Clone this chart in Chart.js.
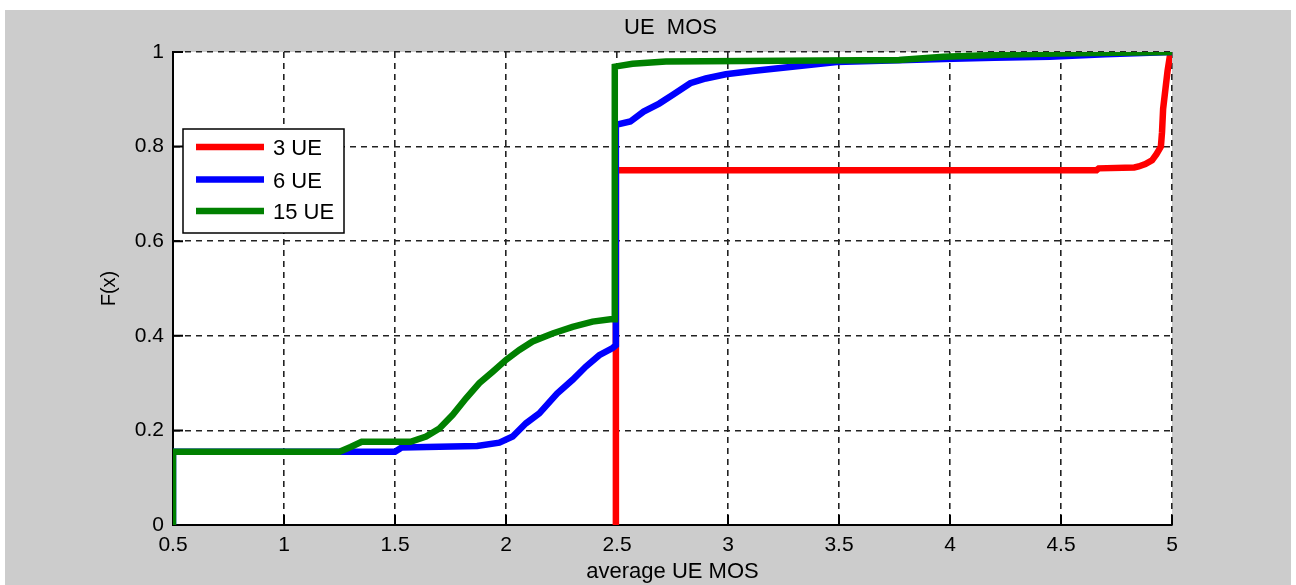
<!DOCTYPE html>
<html>
<head>
<meta charset="utf-8">
<script src="https://cdn.jsdelivr.net/npm/chart.js@4.4.1/dist/chart.umd.min.js"></script>
<style>
  html, body { margin: 0; padding: 0; background: #ffffff; }
  canvas { display: block; }
</style>
</head>
<body>
<canvas id="cdf" width="1296" height="585"></canvas>
<script>
const chartTitle = 'UE  MOS';
const xAxisTitle = 'average UE MOS';
const yAxisTitle = 'F(x)';
const seriesLabels = ['3 UE', '6 UE', '15 UE'];
const seriesColors = ['#ff0000', '#0000ff', '#008000'];
const xTickValues = [0.5, 1, 1.5, 2, 2.5, 3, 3.5, 4, 4.5, 5];
const xTickLabels = ['0.5', '1', '1.5', '2', '2.5', '3', '3.5', '4', '4.5', '5'];
const yTickValues = [0, 0.2, 0.4, 0.6, 0.8, 1];
const yTickLabels = ['0', '0.2', '0.4', '0.6', '0.8', '1'];

// Empirical CDF samples: x = average MOS, y = F(x)
const ue3X = [2.495, 2.495, 4.66, 4.67, 4.83, 4.85, 4.88, 4.91, 4.93, 4.95, 4.955, 4.96, 4.97, 4.98, 4.99, 5.0];
const ue3Y = [0, 0.75, 0.75, 0.754, 0.756, 0.758, 0.763, 0.771, 0.784, 0.80, 0.83, 0.88, 0.92, 0.96, 0.99, 1.0];

const ue6X = [0.5, 0.5, 1.25, 1.5, 1.53, 1.87, 1.97, 2.03, 2.09, 2.15, 2.23, 2.30, 2.36, 2.42, 2.48, 2.495,
              2.495, 2.56, 2.62, 2.69, 2.75, 2.83, 2.90, 2.99, 3.11, 3.29, 3.49, 3.97, 4.2, 4.45, 4.7, 5.0];
const ue6Y = [0, 0.155, 0.155, 0.155, 0.164, 0.167, 0.174, 0.187, 0.215, 0.236, 0.278, 0.307, 0.335, 0.359, 0.374, 0.38,
              0.846, 0.853, 0.874, 0.891, 0.909, 0.934, 0.944, 0.953, 0.96, 0.969, 0.979, 0.985, 0.988, 0.99, 0.995, 1.0];

const ue15X = [0.5, 0.5, 1.25, 1.3, 1.35, 1.57, 1.64, 1.70, 1.76, 1.82, 1.88, 1.94, 2.0, 2.06, 2.12, 2.21, 2.30, 2.39, 2.47, 2.49,
               2.49, 2.57, 2.72, 3.77, 3.97, 4.22, 4.48, 5.0];
const ue15Y = [0, 0.155, 0.155, 0.165, 0.176, 0.176, 0.187, 0.204, 0.233, 0.268, 0.30, 0.324, 0.349, 0.37, 0.388, 0.405, 0.419, 0.43, 0.435, 0.435,
               0.969, 0.975, 0.98, 0.983, 0.99, 0.994, 0.997, 1.0];

const FONT = '"Liberation Sans", Arial, Helvetica, sans-serif';
const TEXT_COLOR = '#000000';

function toPoints(xs, ys) {
  return xs.map((x, i) => ({ x: x, y: ys[i] }));
}

const seriesPoints = [toPoints(ue3X, ue3Y), toPoints(ue6X, ue6Y), toPoints(ue15X, ue15Y)];

// Grey figure frame with a white axes area
const framePlugin = {
  id: 'frame',
  beforeDraw(chart) {
    const { ctx, chartArea: a } = chart;
    ctx.save();
    ctx.fillStyle = '#ffffff';
    ctx.fillRect(0, 0, chart.width, chart.height);
    ctx.fillStyle = '#cccccc';
    ctx.fillRect(5, 10, 1286, chart.height - 10);
    ctx.fillStyle = '#ffffff';
    ctx.fillRect(a.left, a.top, a.right - a.left, a.bottom - a.top);
    ctx.restore();
  }
};

// Short tick marks pointing into the axes area
const innerTicksPlugin = {
  id: 'innerTicks',
  beforeDatasetsDraw(chart) {
    const { ctx, chartArea: a, scales } = chart;
    const len = 10;
    ctx.save();
    ctx.strokeStyle = '#000000';
    ctx.lineWidth = 2;
    ctx.beginPath();
    scales.x.ticks.forEach(t => {
      const px = scales.x.getPixelForValue(t.value);
      ctx.moveTo(px, a.bottom);
      ctx.lineTo(px, a.bottom - len);
    });
    scales.y.ticks.forEach(t => {
      const py = scales.y.getPixelForValue(t.value);
      ctx.moveTo(a.left, py);
      ctx.lineTo(a.left + len, py);
    });
    ctx.stroke();
    ctx.restore();
  }
};

// Title above the axes and boxed legend in the upper-left corner
const annotatePlugin = {
  id: 'annotate',
  afterDraw(chart) {
    const { ctx, chartArea: a } = chart;
    ctx.save();
    ctx.fillStyle = TEXT_COLOR;
    ctx.font = '22px ' + FONT;
    ctx.textAlign = 'center';
    ctx.textBaseline = 'alphabetic';
    ctx.fillText(chartTitle, (a.left + a.right) / 2 - 2, 33.5);

    const box = { x: 183, y: 129, w: 161, h: 104 };
    ctx.fillStyle = '#ffffff';
    ctx.fillRect(box.x, box.y, box.w, box.h);
    ctx.strokeStyle = '#000000';
    ctx.lineWidth = 1.5;
    ctx.strokeRect(box.x, box.y, box.w, box.h);

    const rowY = [147, 179.5, 211];
    chart.data.datasets.forEach((ds, i) => {
      ctx.strokeStyle = ds.borderColor;
      ctx.lineWidth = 6.5;
      ctx.lineCap = 'butt';
      ctx.beginPath();
      ctx.moveTo(196, rowY[i]);
      ctx.lineTo(264, rowY[i]);
      ctx.stroke();
      ctx.fillStyle = TEXT_COLOR;
      ctx.font = '22px ' + FONT;
      ctx.textAlign = 'left';
      ctx.textBaseline = 'middle';
      ctx.fillText(ds.label, 273, rowY[i] + 2);
    });
    ctx.restore();
  }
};

const gridStyle = {
  color: '#222222',
  lineWidth: 1.6,
  drawTicks: false
};

new Chart(document.getElementById('cdf'), {
  type: 'scatter',
  data: {
    datasets: seriesPoints.map((pts, i) => ({
      label: seriesLabels[i],
      data: pts,
      // later series are painted over earlier ones
      order: seriesPoints.length - 1 - i,
      showLine: true,
      borderColor: seriesColors[i],
      backgroundColor: seriesColors[i],
      borderWidth: 6.5,
      borderJoinStyle: 'miter',
      borderCapStyle: 'butt',
      pointRadius: 0,
      pointHoverRadius: 0,
      tension: 0,
      clip: 0
    }))
  },
  options: {
    responsive: false,
    devicePixelRatio: 1,
    animation: false,
    events: [],
    layout: { padding: { left: 0, right: 124, top: 52, bottom: 0 } },
    plugins: {
      legend: { display: false },
      title: { display: false },
      tooltip: { enabled: false }
    },
    scales: {
      x: {
        type: 'linear',
        min: 0.5,
        max: 5,
        afterFit(scale) { scale.height = 60; },
        afterBuildTicks(scale) { scale.ticks = xTickValues.map(v => ({ value: v })); },
        grid: gridStyle,
        border: { display: true, color: '#000000', width: 2, dash: [6, 5] },
        ticks: {
          color: TEXT_COLOR,
          font: { family: FONT, size: 21 },
          padding: 8,
          maxRotation: 0,
          autoSkip: false,
          callback: (value, index) => xTickLabels[index]
        },
        title: {
          display: true,
          text: xAxisTitle,
          color: TEXT_COLOR,
          font: { family: FONT, size: 22 },
          padding: { top: 0, bottom: 0 }
        }
      },
      y: {
        type: 'linear',
        min: 0,
        max: 1,
        afterFit(scale) { scale.width = 173; },
        afterBuildTicks(scale) { scale.ticks = yTickValues.map(v => ({ value: v })); },
        grid: gridStyle,
        border: { display: true, color: '#000000', width: 2, dash: [6, 5] },
        ticks: {
          color: TEXT_COLOR,
          font: { family: FONT, size: 21 },
          padding: 9,
          autoSkip: false,
          callback: (value, index) => yTickLabels[index]
        },
        title: {
          display: true,
          text: yAxisTitle,
          color: TEXT_COLOR,
          font: { family: FONT, size: 20 },
          padding: { top: 97, bottom: 0 }
        }
      }
    }
  },
  plugins: [framePlugin, innerTicksPlugin, annotatePlugin]
});
</script>
</body>
</html>
